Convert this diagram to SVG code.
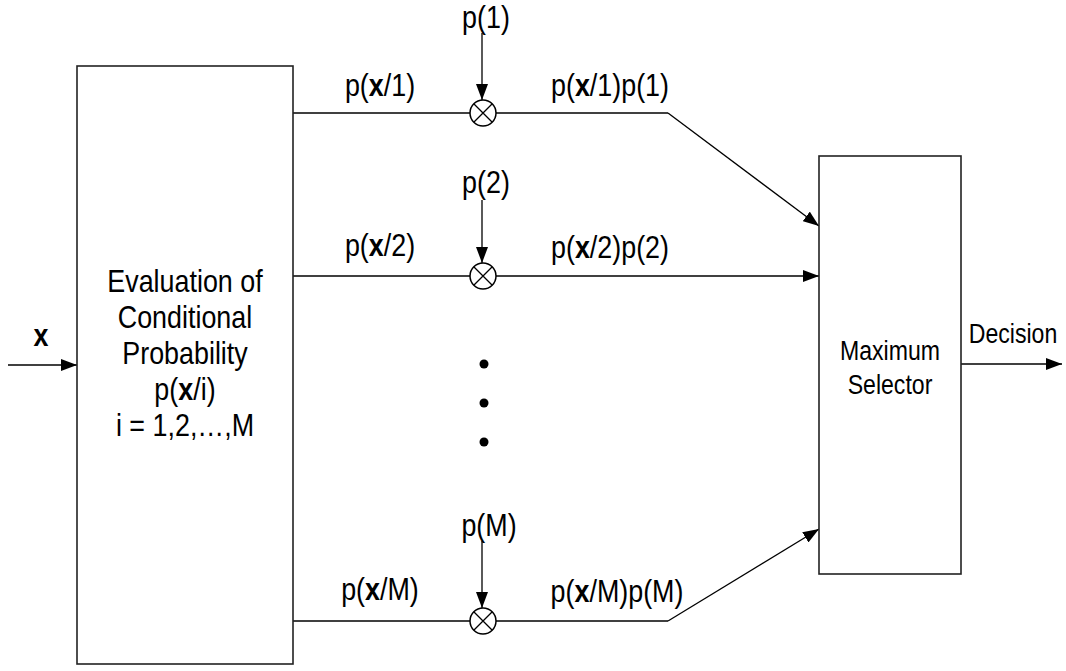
<svg xmlns="http://www.w3.org/2000/svg" width="1066" height="671" viewBox="0 0 1066 671">
<defs>
<marker id="ah" markerUnits="userSpaceOnUse" markerWidth="16" markerHeight="12" refX="16" refY="6" orient="auto">
<path d="M0,0 L16,6 L0,12 Z" fill="#000"/>
</marker>
<style>
.t{font-family:"Liberation Sans",Arial,sans-serif;font-size:32px;fill:#000;text-anchor:middle}
.s{font-family:"Liberation Sans",Arial,sans-serif;font-size:27.5px;fill:#000;text-anchor:middle}
.b{font-weight:bold}
.box{fill:#fff;stroke:#222;stroke-width:1.6}
.ln{fill:none;stroke:#000;stroke-width:1.3}
.ar{fill:none;stroke:#000;stroke-width:1.3;marker-end:url(#ah)}
.mul{fill:#fff;stroke:#000;stroke-width:1.5}
</style>
</defs>
<rect width="1066" height="671" fill="#fff"/>
<g id="connectors">
<line class="ar" x1="8" y1="365" x2="77" y2="365"/>
<line class="ln" x1="293" y1="113" x2="470" y2="113"/>
<line class="ln" x1="496" y1="113" x2="668" y2="113"/>
<line class="ar" x1="668" y1="113" x2="819" y2="226"/>
<line class="ln" x1="293" y1="276" x2="470" y2="276"/>
<line class="ar" x1="496" y1="276" x2="819" y2="276"/>
<line class="ln" x1="293" y1="621" x2="470" y2="621"/>
<line class="ln" x1="496" y1="621" x2="668" y2="621"/>
<line class="ar" x1="668" y1="621" x2="819" y2="529"/>
<line class="ar" x1="482" y1="33" x2="482" y2="100"/>
<line class="ar" x1="482" y1="200" x2="482" y2="263"/>
<line class="ar" x1="482" y1="541" x2="482" y2="608"/>
<line class="ar" x1="961" y1="364" x2="1062" y2="364"/>
</g>
<g id="input-label">
<text class="t b" transform="translate(41,346) scale(0.84,1)">x</text>
</g>
<g id="evaluator">
<rect class="box" x="77" y="66" width="216" height="598"/>
<text class="t" transform="translate(185,292) scale(0.84,1)">Evaluation of</text>
<text class="t" transform="translate(185,328) scale(0.84,1)">Conditional</text>
<text class="t" transform="translate(185,364) scale(0.84,1)">Probability</text>
<text class="t" transform="translate(185,400) scale(0.84,1)">p(<tspan class="b">x</tspan>/i)</text>
<text class="t" transform="translate(185,436) scale(0.84,1)">i = 1,2,…,M</text>
</g>
<g id="mult1">
<circle class="mul" cx="483" cy="113" r="13"/>
<path class="ln" d="M474,104 L492,122 M492,104 L474,122"/>
<text class="t" transform="translate(486,28) scale(0.84,1)">p(1)</text>
<text class="t" transform="translate(380,96) scale(0.84,1)">p(<tspan class="b">x</tspan>/1)</text>
<text class="t" transform="translate(610,96) scale(0.84,1)">p(<tspan class="b">x</tspan>/1)p(1)</text>
</g>
<g id="mult2">
<circle class="mul" cx="483" cy="276" r="13"/>
<path class="ln" d="M474,267 L492,285 M492,267 L474,285"/>
<text class="t" transform="translate(486,193) scale(0.84,1)">p(2)</text>
<text class="t" transform="translate(380,256) scale(0.84,1)">p(<tspan class="b">x</tspan>/2)</text>
<text class="t" transform="translate(610,258) scale(0.84,1)">p(<tspan class="b">x</tspan>/2)p(2)</text>
</g>
<g id="ellipsis">
<circle cx="484" cy="364" r="4.5" fill="#000"/>
<circle cx="484" cy="403" r="4.5" fill="#000"/>
<circle cx="484" cy="442" r="4.5" fill="#000"/>
</g>
<g id="multM">
<circle class="mul" cx="483" cy="621" r="13"/>
<path class="ln" d="M474,612 L492,630 M492,612 L474,630"/>
<text class="t" transform="translate(489,536) scale(0.84,1)">p(M)</text>
<text class="t" transform="translate(380,600) scale(0.84,1)">p(<tspan class="b">x</tspan>/M)</text>
<text class="t" transform="translate(617,602) scale(0.84,1)">p(<tspan class="b">x</tspan>/M)p(M)</text>
</g>
<g id="selector">
<rect class="box" x="819" y="156" width="142" height="418"/>
<text class="s" transform="translate(890,360) scale(0.84,1)">Maximum</text>
<text class="s" transform="translate(890,394) scale(0.84,1)">Selector</text>
</g>
<g id="decision-label">
<text class="s" transform="translate(1013,343) scale(0.84,1)">Decision</text>
</g>
</svg>
